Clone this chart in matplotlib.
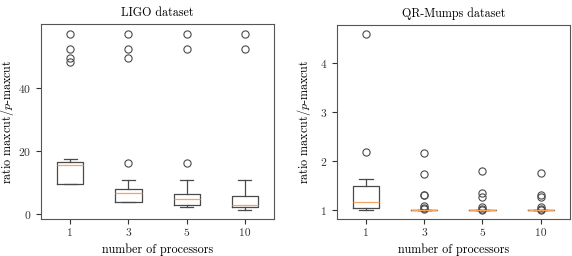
import matplotlib
matplotlib.use("Agg")
import matplotlib.pyplot as plt

plt.rcParams['font.family'] = 'serif'
plt.rcParams['font.serif'] = ['cmr10']
plt.rcParams['mathtext.fontset'] = 'cm'
plt.rcParams['axes.formatter.use_mathtext'] = True
plt.rcParams['font.size'] = 8

processors = ["1", "3", "5", "10"]

# LIGO dataset statistics
ligo_whislo = [9.5, 3.7, 2.3, 1.2]
ligo_q1 = [9.5, 3.7, 2.9, 2.3]
ligo_med = [15.5, 6.8, 4.6, 2.8]
ligo_q3 = [16.6, 7.9, 6.3, 5.8]
ligo_whishi = [17.5, 10.7, 10.7, 10.7]
ligo_fliers = [[57.1, 52.2, 49.4, 48.3],
               [57.1, 52.2, 49.5, 16.1],
               [57.1, 52.2, 16.1],
               [57.1, 52.2]]

# QR-Mumps dataset statistics
qr_whislo = [1.0, 1.0, 1.0, 1.0]
qr_q1 = [1.05, 1.0, 1.0, 1.0]
qr_med = [1.16, 1.0, 1.0, 1.0]
qr_q3 = [1.50, 1.0, 1.0, 1.0]
qr_whishi = [1.64, 1.0, 1.0, 1.0]
qr_fliers = [[4.59, 2.18],
             [2.16, 1.74, 1.31, 1.30, 1.09, 1.05, 1.02],
             [1.79, 1.35, 1.27, 1.07, 1.03, 1.01],
             [1.75, 1.31, 1.27, 1.07, 1.03, 1.01]]


def make_stats(lo, q1, med, q3, hi, fl):
    return [dict(whislo=a, q1=b, med=c, q3=d, whishi=e, fliers=f, label=l)
            for a, b, c, d, e, f, l in zip(lo, q1, med, q3, hi, fl, processors)]


fig = plt.figure(figsize=(5.72, 2.56), dpi=100)
ax1 = fig.add_axes([0.072, 0.1445, 0.407, 0.762])
ax2 = fig.add_axes([0.589, 0.1445, 0.407, 0.758])

gray = '#4a4a4a'
props = dict(
    boxprops=dict(color=gray, linewidth=0.9),
    whiskerprops=dict(color=gray, linewidth=0.9),
    capprops=dict(color=gray, linewidth=0.9),
    medianprops=dict(color='#f4a460', linewidth=0.9),
    flierprops=dict(marker='o', markerfacecolor='none', markeredgecolor=gray,
                    markersize=5.2, markeredgewidth=0.8),
)

ax1.bxp(make_stats(ligo_whislo, ligo_q1, ligo_med, ligo_q3, ligo_whishi, ligo_fliers),
        widths=0.45, **props)
ax2.bxp(make_stats(qr_whislo, qr_q1, qr_med, qr_q3, qr_whishi, qr_fliers),
        widths=0.45, **props)

ax1.set_title("LIGO dataset", fontsize=8.7, pad=6)
ax2.set_title("QR-Mumps dataset", fontsize=8.7, pad=6)
ax1.set_yticks([0, 20, 40])
ax2.set_yticks([1, 2, 3, 4])
for ax in (ax1, ax2):
    ax.set_xlabel("number of processors", fontsize=8.7)
    ax.set_ylabel("ratio maxcut/$p$-maxcut", fontsize=8.7)
    for s in ax.spines.values():
        s.set_color('#555555')
    ax.tick_params(colors='#333333', labelsize=8.3)

ax1.yaxis.set_label_coords(-0.108, 0.5)
ax2.yaxis.set_label_coords(-0.103, 0.5)

ax1.set_ylim(-1.6, 60.3)
ax2.set_ylim(0.82, 4.78)

fig.savefig("out.png", dpi=100)
